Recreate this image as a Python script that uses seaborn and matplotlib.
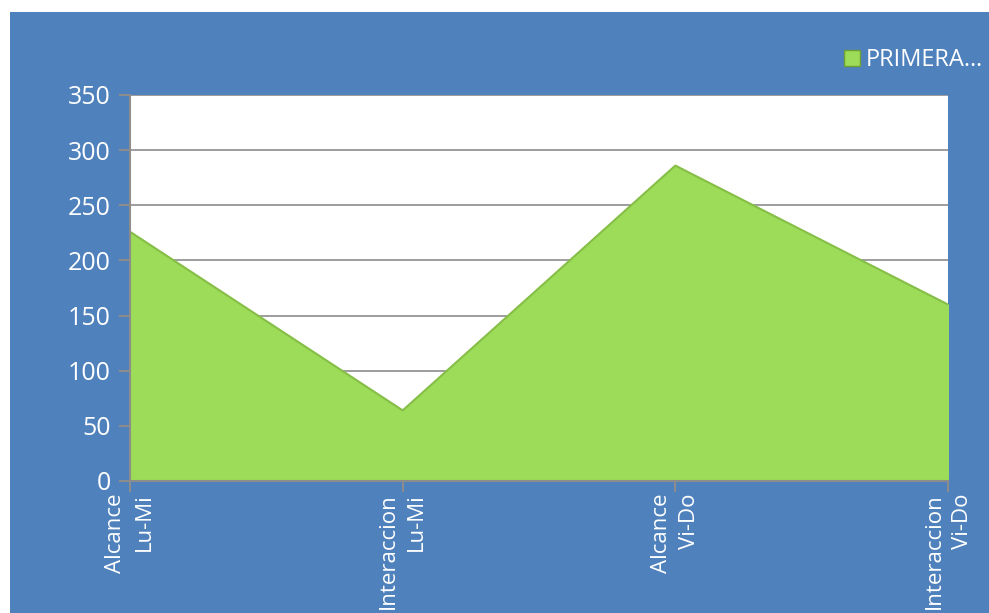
import seaborn as sns
import pandas as pd
from matplotlib import pyplot as plt
from matplotlib.patches import Rectangle

categories = ['Alcance\nLu-Mi', 'Interaccion\nLu-Mi', 'Alcance\nVi-Do', 'Interaccion\nVi-Do']
values = [226, 64, 286, 160]
series_name = 'PRIMERA…'

blue = '#4F81BD'
green = '#9CDC58'

sns.set_theme(style='white')
plt.rcParams['font.family'] = ['Open Sans', 'DejaVu Sans']

df = pd.DataFrame({'pos': range(len(categories)), 'value': values})

fig = plt.figure(figsize=(9.89, 6.13), dpi=100, facecolor='white')
fig.patches.append(Rectangle((10 / 989, 0), 1, 1 - 12 / 613, transform=fig.transFigure,
                             facecolor=blue, edgecolor='none', zorder=-10))

ax = fig.add_axes([130 / 989, 1 - 481 / 613, (948 - 130) / 989, (481 - 95) / 613])
ax.set_facecolor('white')

ax.fill_between(df.pos, df.value, color=green, label=series_name, zorder=2)
sns.lineplot(data=df, x='pos', y='value', color='#86BE48', linewidth=1.5, ax=ax, zorder=3)

ax.set_xlim(0, len(categories) - 1)
ax.set_ylim(0, 350)
ax.set_yticks(range(0, 351, 50))
ax.set_xticks(df.pos)
ax.set_xticklabels(categories, rotation=90, ha='center', va='top',
                   multialignment='right', linespacing=1.45, fontsize=16)
ax.set_xlabel('')
ax.set_ylabel('')
ax.grid(axis='y', color='#8C8C8C', linewidth=1.2, zorder=1)
ax.set_axisbelow(True)

for side in ['top', 'right']:
    ax.spines[side].set_visible(False)
for side in ['left', 'bottom']:
    ax.spines[side].set_color('#8C8C8C')
    ax.spines[side].set_linewidth(1.5)
    ax.spines[side].set_zorder(4)

ax.tick_params(axis='both', colors='#8C8C8C', labelcolor='white',
               direction='out', length=8, width=1.5, left=True, bottom=True)
ax.tick_params(axis='y', labelsize=18, pad=6)
ax.tick_params(axis='x', pad=1)

leg = ax.legend(handles=[plt.Rectangle((0, 0), 1, 1, facecolor=green, edgecolor='#6E9E34')],
                labels=[series_name], loc='center left', bbox_to_anchor=(835 / 989, 1 - 60 / 613),
                bbox_transform=fig.transFigure, frameon=False, fontsize=17,
                handlelength=0.65, handleheight=0.65, handletextpad=0.25, borderaxespad=0)
for t in leg.get_texts():
    t.set_color('white')

fig.savefig('out.png', dpi=100, facecolor=fig.get_facecolor())
